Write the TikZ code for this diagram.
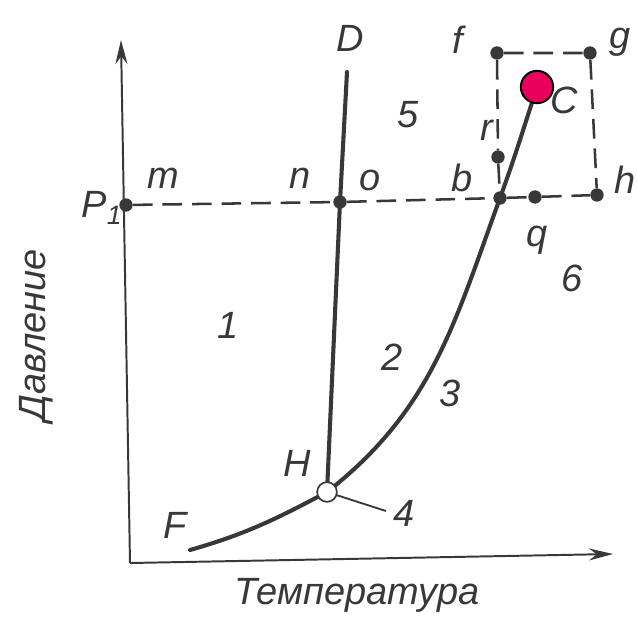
\documentclass[tikz,border=0pt]{standalone}
\usepackage{fontspec}
\setmainfont{Liberation Sans}
\usetikzlibrary{arrows.meta,positioning}
\definecolor{phaseInk}{HTML}{383838}
\definecolor{phasePink}{HTML}{E8005C}
\tikzset{
  every picture/.style={font=\fontsize{27}{30}\selectfont\itshape, text=phaseInk},
  phase axis/.style={draw=phaseInk, line width=1.4pt,
    -{Stealth[length=6mm,width=3mm]}},
  phase line/.style={draw=phaseInk, line width=2.9pt, line cap=round},
  phase guide/.style={draw=phaseInk, line width=1.8pt, dash pattern=on 14pt off 7pt},
  phase dot/.style={circle, fill=phaseInk, inner sep=0pt, minimum size=9.5pt},
  phase lbl/.style={inner sep=1pt}
}

\begin{document}
\begin{tikzpicture}[x=0.025cm,y=-0.025cm]
  \useasboundingbox (0,0) rectangle (637,620);
  % axes
  \coordinate (corner) at (130,563);
  \coordinate (ytop) at (121,40);
  \coordinate (xend) at (613,554);
  \draw[phase axis] (corner) -- (ytop);
  \draw[phase axis] (corner) -- (xend);
  \node[phase lbl] (tlbl) at (357,595) {Температура};
  \node[phase lbl, rotate=90] (plbl) at (36,335) {Давление};
  % phase lines
  \coordinate (F) at (190,550);
  \coordinate (H) at (327,492);
  \coordinate (b) at (500,198);
  \coordinate (C) at (537,87);
  \coordinate (o) at (340,202);
  \coordinate (Dtop) at (347,72);
  \coordinate (four) at (386,511);
  \draw[phase line] (F) to[out=16,in=208] (H) to[out=38,in=250] (b) to[out=70,in=252] (C);
  \draw[phase line] (H) -- (o) -- (Dtop);
  \draw[draw=phaseInk, line width=1.3pt] (H) -- (four);
  % isobar and square
  \node[phase dot] (pm) at (126,205) {};
  \node[phase dot] (po) at (o) {};
  \node[phase dot] (pb) at (b) {};
  \node[phase dot] (pq) at (535,197) {};
  \node[phase dot] (ph) at (597,195) {};
  \node[phase dot] (pg) at (590,53) {};
  \node[phase dot] (pf) at (497,53) {};
  \node[phase dot] (pr) at (498,157) {};
  \draw[phase guide] (pm) -- (po) -- (pb) -- (pq) -- (ph);
  \draw[phase guide] (pf) -- (pg) -- (ph);
  \draw[phase guide] (pf) -- (pr) -- (pb);
  \node[circle, draw=phaseInk, fill=white, line width=1.2pt, minimum size=14pt, inner sep=0pt] (ptriple) at (H) {};
  \node[circle, draw=black, fill=phasePink, line width=1.4pt, minimum size=23pt, inner sep=0pt] (pcrit) at (C) {};
  % labels
  \node[phase lbl] (lD) at (350,38) {D};
  \node[phase lbl] (lf) at (458,40) {f};
  \node[phase lbl] (lg) at (620,42) {g};
  \node[phase lbl] (lC) at (564,100) {C};
  \node[phase lbl] (l5) at (408,115) {5};
  \node[phase lbl] (lr) at (487,130) {r};
  \node[phase lbl] (lm) at (163,178) {m};
  \node[phase lbl] (ln) at (300,178) {n};
  \node[phase lbl] (lo) at (370,180) {o};
  \node[phase lbl] (lb) at (462,178) {b};
  \node[phase lbl] (lh) at (625,180) {h};
  \node[phase lbl] (lP) at (102,208) {P\textsubscript{1}};
  \node[phase lbl] (lq) at (537,240) {q};
  \node[phase lbl] (l6) at (572,278) {6};
  \node[phase lbl] (l1) at (228,325) {1};
  \node[phase lbl] (l2) at (392,357) {2};
  \node[phase lbl] (l3) at (450,393) {3};
  \node[phase lbl] (lH) at (297,463) {H};
  \node[phase lbl] (lF) at (175,525) {F};
  \node[phase lbl] (l4) at (404,513) {4};
\end{tikzpicture}
\end{document}
